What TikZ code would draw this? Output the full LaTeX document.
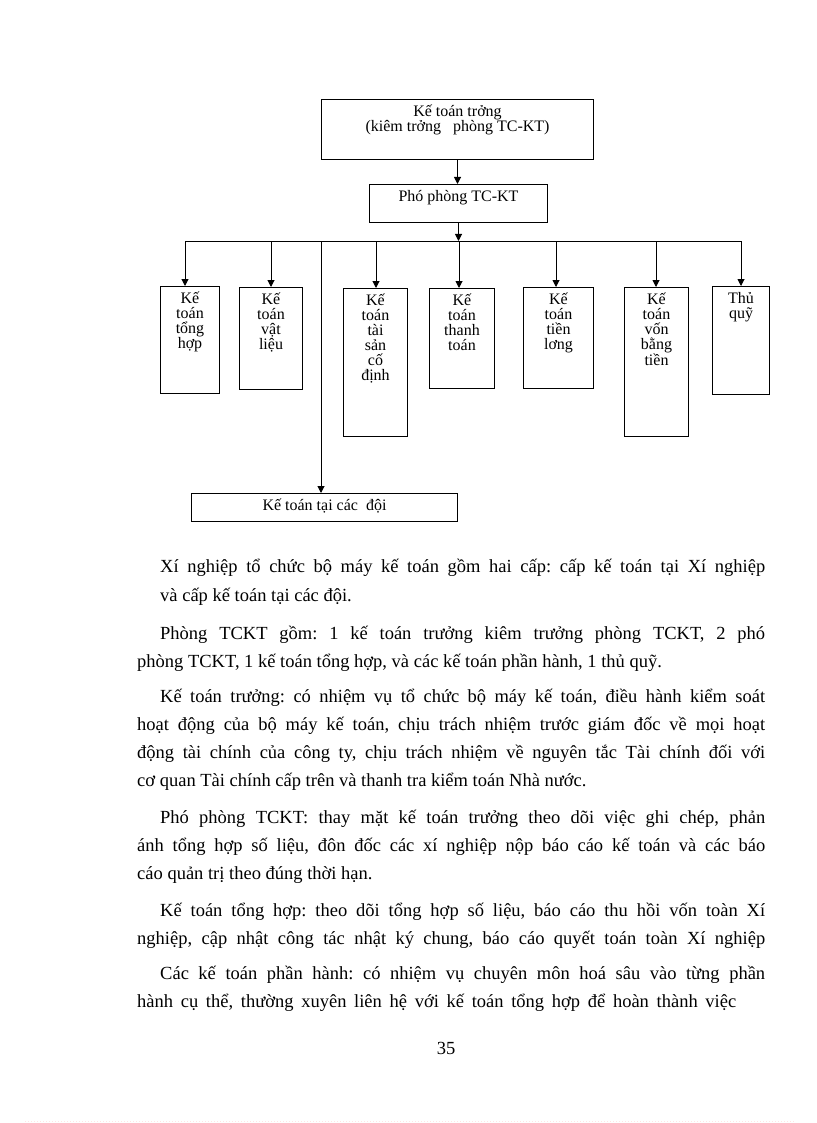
\documentclass[tikz,border=0pt]{standalone}
\usepackage{fontspec}
\setmainfont{Liberation Serif}
\usetikzlibrary{arrows, arrows.meta}
\usetikzlibrary{calc}

\frenchspacing
\newcommand{\unittext}[3]{\parbox[t][#2][t]{#1}{\centering\rule{0pt}{17pt}#3}}

\begin{document}
\begin{tikzpicture}[x=1pt, y=-1pt,
    unit/.style={draw, line width=1pt, inner sep=0pt, anchor=north west, font=\fontsize{16}{15}\selectfont},
    link/.style={line width=1pt},
    arr/.style={line width=1pt, -{Triangle[width=7pt, length=7pt]}},
    textline/.style={anchor=base west, inner sep=0pt, font=\fontsize{18.5}{28}\selectfont}]
      \useasboundingbox (0,0) rectangle (816,1123);

      \node[unit] (chief) at (321,99) {\unittext{272pt}{60pt}{Kế toán trởng\\(kiêm trởng\ \ \ phòng TC-KT)}};
      \node[unit] (deputy) at (369,184) {\unittext{178pt}{38pt}{Phó phòng TC-KT}};

      \node[unit] (b1) at (160,286) {\unittext{59pt}{107pt}{Kế\\toán\\tổng\\hợp}};
      \node[unit] (b2) at (239,287) {\unittext{63pt}{102pt}{Kế\\toán\\vật\\liệu}};
      \node[unit] (b3) at (343,288) {\unittext{64pt}{148pt}{Kế\\toán\\tài\\sản\\cố\\định}};
      \node[unit] (b4) at (429,288) {\unittext{65pt}{100pt}{Kế\\toán\\thanh\\toán}};
      \node[unit] (b5) at (523,287) {\unittext{70pt}{101pt}{Kế\\toán\\tiền\\lơng}};
      \node[unit] (b6) at (624,287) {\unittext{64pt}{149pt}{Kế\\toán\\vốn\\bằng\\tiền}};
      \node[unit] (b7) at (712,286) {\unittext{57pt}{108pt}{Thủ\\quỹ}};

      \node[unit] (teams) at (191,493) {\unittext{266pt}{28pt}{Kế toán tại các\ \ đội}};

      \coordinate (j1) at (185,241);
      \coordinate (j2) at (271,241);
      \coordinate (j3) at (376,241);
      \coordinate (j4) at (459,241);
      \coordinate (j5) at (556,241);
      \coordinate (j6) at (656,241);
      \coordinate (j7) at (741,241);
      \coordinate (jd) at (321,241);

      \draw[arr] (chief.south) -- (chief.south |- deputy.north);
      \draw[arr] (deputy.south) -- (deputy.south |- j4);
      \draw[link] (j1) -- (j7);
      \foreach \i in {1,...,7}
        \draw[arr] (j\i) -- (j\i |- b\i.north);
      \draw[arr] (jd) -- (jd |- teams.north);

      \node[textline] (p1a) at (160,572) {\hbox to 605pt{Xí nghiệp tổ chức bộ máy kế toán gồm hai cấp: cấp kế toán tại Xí nghiệp}};
      \node[textline] (p1b) at (160,601) {và cấp kế toán tại các đội.};
      \node[textline] (p2a) at (160,639) {\hbox to 605pt{Phòng TCKT gồm: 1 kế toán trưởng kiêm trưởng phòng TCKT, 2 phó}};
      \node[textline] (p2b) at (137,667) {phòng TCKT, 1 kế toán tổng hợp, và các kế toán phần hành, 1 thủ quỹ.};
      \node[textline] (p3a) at (160,702) {\hbox to 605pt{Kế toán trưởng: có nhiệm vụ tổ chức bộ máy kế toán, điều hành kiểm soát}};
      \node[textline] (p3b) at (137,730) {\hbox to 628pt{hoạt động của bộ máy kế toán, chịu trách nhiệm trước giám đốc về mọi hoạt}};
      \node[textline] (p3c) at (137,758) {\hbox to 628pt{động tài chính của công ty, chịu trách nhiệm về nguyên tắc Tài chính đối với}};
      \node[textline] (p3d) at (137,786) {cơ quan Tài chính cấp trên và thanh tra kiểm toán Nhà nước.};
      \node[textline] (p4a) at (160,823) {\hbox to 605pt{Phó phòng TCKT: thay mặt kế toán trưởng theo dõi việc ghi chép, phản}};
      \node[textline] (p4b) at (137,851) {\hbox to 628pt{ánh tổng hợp số liệu, đôn đốc các xí nghiệp nộp báo cáo kế toán và các báo}};
      \node[textline] (p4c) at (137,879) {cáo quản trị theo đúng thời hạn.};
      \node[textline] (p5a) at (160,916) {\hbox to 605pt{Kế toán tổng hợp: theo dõi tổng hợp số liệu, báo cáo thu hồi vốn toàn Xí}};
      \node[textline] (p5b) at (137,944) {\hbox to 628pt{nghiệp, cập nhật công tác nhật ký chung, báo cáo quyết toán toàn Xí nghiệp}};
      \node[textline] (p6a) at (160,979) {\hbox to 605pt{Các kế toán phần hành: có nhiệm vụ chuyên môn hoá sâu vào từng phần}};
      \node[textline] (p6b) at (137,1007) {\hbox to 599pt{hành cụ thể, thường xuyên liên hệ với kế toán tổng hợp để hoàn thành việc}};

      \node[textline, anchor=base] (page) at (446,1054) {35};

      \draw[pink!40, dotted, line width=1pt] (25,1121) -- (795,1121);
    \end{tikzpicture}
\end{document}
